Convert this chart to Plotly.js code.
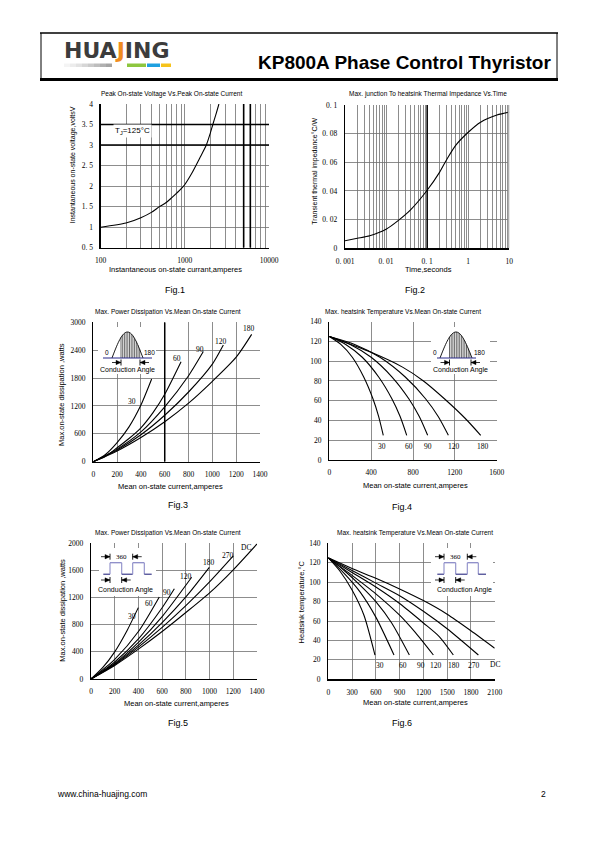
<!DOCTYPE html>
<html><head><meta charset="utf-8">
<script src="https://cdn.plot.ly/plotly-3.0.1.min.js"></script>
<style>html,body{margin:0;padding:0;background:#fff}#c{width:595px;height:842px}</style>
</head><body><div id="c"></div>
<script>
// ---------------- DATA ----------------
// Fig.1 Peak on-state voltage vs peak on-state current (Tj=125°C)
const fig1Current = [100,200,300,400,500,600,700,800,900,1000,1200,1500,1800,2000,2150,2350,2540];
const fig1Voltage = [1.0,1.1,1.23,1.36,1.5,1.6,1.72,1.83,1.93,2.04,2.3,2.68,3.0,3.28,3.5,3.76,4.0];
const fig1XTickVals = [100,200,300,400,500,600,700,800,900,1000,2000,3000,4000,5000,6000,7000,8000,9000,10000];
const fig1XTickText = ['100','','','','','','','','','1000','','','','','','','','','10000'];
const fig1YTickVals = [0.5,1,1.5,2,2.5,3,3.5,4];
const fig1YTickText = ['0. 5','1','1. 5','2','2. 5','3','3. 5','4'];
const fig1HeavyX = [5000,6000];
const fig1HeavyY = [3,3.5];
// Fig.2 Transient thermal impedance vs time
const fig2Time = [0.001,0.002,0.004,0.01,0.02,0.04,0.1,0.2,0.3,0.5,1,2,5,10];
const fig2Zth  = [0.0053,0.007,0.0088,0.0133,0.0195,0.027,0.0405,0.053,0.062,0.072,0.081,0.088,0.093,0.095];
const fig2XTickVals = [0.001,0.002,0.003,0.004,0.005,0.006,0.007,0.008,0.009,0.01,0.02,0.03,0.04,0.05,0.06,0.07,0.08,0.09,0.1,0.2,0.3,0.4,0.5,0.6,0.7,0.8,0.9,1,2,3,4,5,6,7,8,9,10];
const fig2XTickText = ['0. 001','','','','','','','','','0. 01','','','','','','','','','0. 1','','','','','','','','','1','','','','','','','','','10'];
const fig2YTickVals = [0,0.02,0.04,0.06,0.08,0.1];
const fig2YTickText = ['0','0. 02','0. 04','0. 06','0. 08','0. 1'];
const fig2HeavyX = [0.1];
// Fig.3 Power dissipation vs mean current (sine wave)
const fig3Labels = ['30','60','90','120','180'];
const fig3I30 = [0,100,200,300,400,490];            const fig3P30 = [0,150,410,750,1220,1780];
const fig3I60 = [0,100,200,300,400,500,600,737];    const fig3P60 = [0,110,300,500,730,1050,1450,2150];
const fig3I90 = [0,200,400,600,800,924];            const fig3P90 = [0,270,640,1180,1850,2370];
const fig3I120 = [0,200,400,600,800,1000,1092];     const fig3P120 = [0,250,580,1000,1500,2100,2510];
const fig3I180 = [0,200,400,600,800,1000,1200,1330];const fig3P180 = [0,230,520,860,1260,1730,2250,2740];
const fig3XTicks = [0,200,400,600,800,1000,1200,1400];
const fig3YTicks = [0,600,1200,1800,2400,3000];
const fig3HeavyX = [600];
// Fig.4 Heatsink temperature vs mean current (sine wave)
const fig4Labels = ['30','60','90','120','180'];
const fig4I30 = [0,110,220,329,417,472,516];       const fig4T30 = [125,117,104,84,62,44,25];
const fig4I60 = [0,157,315,472,598,677,740];       const fig4T60 = [125,117,104,84,62,44,25];
const fig4I90 = [0,200,400,600,760,860,940];       const fig4T90 = [125,117,104,84,62,44,25];
const fig4I120 = [0,242,484,726,920,1041,1138];    const fig4T120 = [125,117,104,84,62,44,25];
const fig4I180 = [0,400,700,900,1100,1300,1447];   const fig4T180 = [125,109,94,80,62,42,25];
const fig4XTicks = [0,400,800,1200,1600];
const fig4YTicks = [0,20,40,60,80,100,120,140];
// Fig.5 Power dissipation vs mean current (square wave)
const fig5Labels = ['30','60','90','120','180','270','DC'];
const fig5I30 = [0,100,200,300,399];                const fig5P30 = [0,170,400,700,1052];
const fig5I60 = [0,200,400,576];                    const fig5P60 = [0,290,700,1210];
const fig5I90 = [0,200,400,600,703];                const fig5P90 = [0,250,590,1050,1330];
const fig5I120 = [0,200,400,600,849];               const fig5P120 = [0,230,540,920,1500];
const fig5I180 = [0,200,400,600,800,998];           const fig5P180 = [0,220,500,830,1210,1646];
const fig5I270 = [0,200,400,600,800,1000,1200];     const fig5P270 = [0,210,470,760,1080,1430,1813];
const fig5IDC = [0,200,400,600,800,1000,1200,1400]; const fig5PDC = [0,200,440,700,980,1270,1610,1990];
const fig5XTicks = [0,200,400,600,800,1000,1200,1400];
const fig5YTicks = [0,400,800,1200,1600,2000];
// Fig.6 Heatsink temperature vs mean current (square wave)
const fig6Labels = ['30','60','90','120','180','270','DC'];
const fig6I30 = [0,150,300,450,589];                 const fig6T30 = [125,111,92,66,25];
const fig6I60 = [0,200,400,600,829];                 const fig6T60 = [125,109,90,64,25];
const fig6I90 = [0,200,400,600,800,1023];            const fig6T90 = [125,112,97,80,58,25];
const fig6I120 = [0,300,600,900,1100,1326];          const fig6T120 = [125,107,88,66,48,25];
const fig6I180 = [0,300,600,900,1200,1400,1578];     const fig6T180 = [125,110,95,78,58,44,25];
const fig6I270 = [0,300,600,900,1200,1500,1894];     const fig6T270 = [125,112,99,86,70,52,25];
const fig6IDC = [0,300,600,900,1200,1500,1800,2100]; const fig6TDC = [125,114,104,93,81,67,50,32];
const fig6XTicks = [0,300,600,900,1200,1500,1800,2100];
const fig6YTicks = [0,20,40,60,80,100,120,140];

// ---------------- DRAWING ----------------
const W=595,H=842;
const px=x=>x/W, py=y=>1-y/H;
const SANS='Liberation Sans, Arial, sans-serif';
const SERIF='Liberation Serif, Times New Roman, serif';
const GRID='#707070';
const TICKFONT={family:SERIF,size:7.5,color:'#000'};
const traces=[], shapes=[], ann=[];
const axName=(p,n)=>n===1?p:p+n;

function curve(x,y,n){traces.push({x:x,y:y,xaxis:axName('x',n),yaxis:axName('y',n),type:'scatter',mode:'lines',line:{color:'#000',width:1.1,shape:'spline',smoothing:0.7},hoverinfo:'skip'});}
function vHeavy(xs,yr,n,color,w){xs.forEach(v=>traces.push({x:[v,v],y:yr,xaxis:axName('x',n),yaxis:axName('y',n),type:'scatter',mode:'lines',line:{color:color,width:w},hoverinfo:'skip'}));}
function hHeavy(ys,xr,n,color,w){ys.forEach(v=>traces.push({x:xr,y:[v,v],xaxis:axName('x',n),yaxis:axName('y',n),type:'scatter',mode:'lines',line:{color:color,width:w},hoverinfo:'skip'}));}
function endLabel(xs,ys,text,n,dx,dy){ann.push({xref:axName('x',n),yref:axName('y',n),x:xs[xs.length-1],y:ys[ys.length-1],xshift:dx,yshift:dy,text:text,showarrow:false,font:{family:SERIF,size:7.5,color:'#000'}});}

function txt(x,y,text,size,o){ann.push(Object.assign({xref:'paper',yref:'paper',x:px(x),y:py(y),text:text,showarrow:false,font:{family:SANS,size:size,color:'#000'},xanchor:'center',yanchor:'middle'},o||{}));}
function P(x,y){return px(x).toFixed(5)+','+py(y).toFixed(5);}
function pth(pts,close){return 'M'+pts.map(p=>P(p[0],p[1])).join('L')+(close?'Z':'');}
function shp(o){shapes.push(Object.assign({xref:'paper',yref:'paper',layer:'above'},o));}
function ln(x0,y0,x1,y1,color,width){shp({type:'line',x0:px(x0),y0:py(y0),x1:px(x1),y1:py(y1),line:{color:color||'#000',width:width||1}});}
function box(x0,y0,x1,y1,fill){shp({type:'rect',x0:px(x0),y0:py(y0),x1:px(x1),y1:py(y1),fillcolor:fill,line:{width:0}});}
function arrowR(xb,y){ln(xb-9,y,xb,y,'#000',0.8);shp({type:'path',path:pth([[xb-5,y-2.2],[xb,y],[xb-5,y+2.2]],true),fillcolor:'#000',line:{color:'#000',width:0.4}});ln(xb,y-3,xb,y+3,'#000',0.9);}
function arrowL(xb,y){ln(xb,y,xb+9,y,'#000',0.8);shp({type:'path',path:pth([[xb+5,y-2.2],[xb,y],[xb+5,y+2.2]],true),fillcolor:'#000',line:{color:'#000',width:0.4}});ln(xb,y-3,xb,y+3,'#000',0.9);}

function sineInset(bx0,bx1,s0,s1,h0,h1,l0,l1,lblX0,lblX1){
  const by0=327,by1=374,base=358,peak=332;
  box(bx0,by0,bx1,by1,'#fff');
  const f=x=>base-(base-peak)*Math.sin(Math.PI*(x-s0)/(s1-s0));
  for(let x=h0;x<=h1+0.01;x+=1.7){ln(x,base,x,f(x),'#000',0.6);}
  const pts=[];for(let i=0;i<=40;i++){const x=s0+(s1-s0)*i/40;pts.push([x,f(x)]);}
  shp({type:'path',path:pth(pts,false),line:{color:'#000',width:0.9}});
  ln(l0,base,l1,base,'#2a2a8a',1.1);
  arrowR(h0,362.5); arrowL(h1,362.5);
  txt(lblX0,353,'0',6.5,{font:{family:SANS,size:6.5,color:'#000'}});
  txt(lblX1,353,'180',6.5,{font:{family:SANS,size:6.5,color:'#000'}});
  txt((bx0+bx1)/2,369.5,'Conduction Angle',7);
}
function squareInset(bx0,bx1,xs,textX){
  const by0=548,by1=596,base=574.2,high=562.7;
  box(bx0,by0,bx1,by1,'#fff');
  const [a,b,c,d,e,g]=xs;
  const dark='#2a2a80', light='#8c8cc8';
  ln(a,base,b,base,dark,1.1); ln(b,base,b,high,light,1.1); ln(b,high,c,high,light,1.3);
  ln(c,high,c,base,light,1.1); ln(c,base,d,base,dark,1.1); ln(d,base,d,high,light,1.1);
  ln(d,high,e,high,light,1.3); ln(e,high,e,base,light,1.1); ln(e,base,g,base,dark,1.1);
  arrowR(b,556.7); arrowL(d,556.7); txt((b+d)/2,556.7,'360',6.5,{font:{family:SERIF,size:7,color:'#000'}});
  arrowR(b,580); arrowL(c,580);
  txt(textX,590,'Conduction Angle',7);
}

// ---- Fig.1 ----
curve(fig1Current,fig1Voltage,1);
vHeavy(fig1HeavyX,[fig1YTickVals[0],fig1YTickVals[fig1YTickVals.length-1]],1,'#000',1.6);
hHeavy(fig1HeavyY,[fig1XTickVals[0],fig1XTickVals[fig1XTickVals.length-1]],1,'#000',1.4);
// ---- Fig.2 ----
curve(fig2Time,fig2Zth,2);
vHeavy(fig2HeavyX,[fig2YTickVals[0],fig2YTickVals[fig2YTickVals.length-1]],2,'#000',1.5);
vHeavy([fig2XTickVals[fig2XTickVals.length-1]],[fig2YTickVals[0],fig2YTickVals[fig2YTickVals.length-1]],2,'#b0b0b0',3);
// ---- Fig.3 ----
const f3=[[fig3I30,fig3P30],[fig3I60,fig3P60],[fig3I90,fig3P90],[fig3I120,fig3P120],[fig3I180,fig3P180]];
f3.forEach(s=>curve(s[0],s[1],3));
vHeavy(fig3HeavyX,[fig3YTicks[0],fig3YTicks[fig3YTicks.length-1]],3,'#000',1.5);
const f3shift=[[-20,-23],[-4,3],[-3,2],[-2,3.5],[-3,6]];
f3.forEach((s,i)=>endLabel(s[0],s[1],fig3Labels[i],3,f3shift[i][0],f3shift[i][1]));
// ---- Fig.4 ----
const f4=[[fig4I30,fig4T30],[fig4I60,fig4T60],[fig4I90,fig4T90],[fig4I120,fig4T120],[fig4I180,fig4T180]];
f4.forEach(s=>curve(s[0],s[1],4));
const f4shift=[[-1,-11],[2,-11],[0,-11],[6,-11],[2,-11]];
f4.forEach((s,i)=>endLabel(s[0],s[1],fig4Labels[i],4,f4shift[i][0],f4shift[i][1]));
// ---- Fig.5 ----
const f5=[[fig5I30,fig5P30],[fig5I60,fig5P60],[fig5I90,fig5P90],[fig5I120,fig5P120],[fig5I180,fig5P180],[fig5I270,fig5P270],[fig5IDC,fig5PDC]];
f5.forEach(s=>curve(s[0],s[1],5));
const f5shift=[[-6,-9],[-10,-7],[-7,-4],[-6,1],[0,5],[-5,0],[-11,-4]];
f5.forEach((s,i)=>endLabel(s[0],s[1],fig5Labels[i],5,f5shift[i][0],f5shift[i][1]));
// ---- Fig.6 ----
const f6=[[fig6I30,fig6T30],[fig6I60,fig6T60],[fig6I90,fig6T90],[fig6I120,fig6T120],[fig6I180,fig6T180],[fig6I270,fig6T270],[fig6IDC,fig6TDC]];
f6.forEach(s=>curve(s[0],s[1],6));
const f6shift=[[5,-10],[9,-10],[12,-10],[3,-10],[1,-10],[-4,-10],[0,-16.5]];
f6.forEach((s,i)=>endLabel(s[0],s[1],fig6Labels[i],6,f6shift[i][0],f6shift[i][1]));

// ---- axes ----
const base={showgrid:true,gridcolor:GRID,gridwidth:0.8,zeroline:false,showline:true,linecolor:'#000',linewidth:1.3,ticks:'',tickfont:TICKFONT,fixedrange:true,tickmode:'array'};
function xAx(x0,x1,n,o){return Object.assign({},base,{domain:[px(x0),px(x1)],anchor:axName('y',n),ticklabelstandoff:5},o);}
function yAx(y0,y1,n,o){return Object.assign({},base,{domain:[py(y1),py(y0)],anchor:axName('x',n),ticklabelstandoff:5},o);}
const lay={
  width:W,height:H,margin:{l:0,r:0,t:0,b:0},paper_bgcolor:'#fff',plot_bgcolor:'#fff',showlegend:false,
  xaxis:xAx(100.7,269,1,{type:'log',range:[2,4],tickvals:fig1XTickVals,ticktext:fig1XTickText}),
  yaxis:yAx(104,247.7,1,{range:[0.5,4],tickvals:fig1YTickVals,ticktext:fig1YTickText}),
  xaxis2:xAx(345,509.3,2,{type:'log',range:[-3,1],tickvals:fig2XTickVals,ticktext:fig2XTickText}),
  yaxis2:yAx(105,248.3,2,{range:[0,0.1],tickvals:fig2YTickVals,ticktext:fig2YTickText}),
  xaxis3:xAx(93.3,260,3,{range:[0,1400],tickvals:fig3XTicks,ticktext:fig3XTicks.map(String)}),
  yaxis3:yAx(322.3,461.7,3,{range:[0,3000],tickvals:fig3YTicks,ticktext:fig3YTicks.map(String)}),
  xaxis4:xAx(329.3,496.7,4,{range:[0,1600],tickvals:fig4XTicks,ticktext:fig4XTicks.map(String)}),
  yaxis4:yAx(321.7,460,4,{range:[0,140],tickvals:fig4YTicks,ticktext:fig4YTicks.map(String)}),
  xaxis5:xAx(91,257,5,{range:[0,1400],tickvals:fig5XTicks,ticktext:fig5XTicks.map(String)}),
  yaxis5:yAx(543.3,679,5,{range:[0,2000],tickvals:fig5YTicks,ticktext:fig5YTicks.map(String)}),
  xaxis6:xAx(328.3,494.7,6,{range:[0,2100],tickvals:fig6XTicks,ticktext:fig6XTicks.map(String)}),
  yaxis6:yAx(543.3,679.3,6,{range:[0,140],tickvals:fig6YTicks,ticktext:fig6YTicks.map(String)}),
  shapes:shapes,annotations:ann
};

// ---- insets ----
sineInset(98,156,112,143,121,140,103,152,106.7,149.5);
sineInset(431,490,440,472,449.5,471,437,476,435,479.5);
squareInset(99,156,[103.3,110,121.7,132.7,144.3,151.7],125);
squareInset(431,493,[437.3,444,455.7,467.3,478.3,486],464);

// ---- header ----
ln(40,33,558,33,'#000',1.4);
ln(41,33,41,80,'#000',1);
ln(557,33,557,80,'#000',1);
ln(40,79.5,558,79.5,'#000',3);
txt(62,51,"<b>HUA<span style='color:#f08c1e'>J</span>ING</b>",22,{xanchor:'left',font:{family:'DejaVu Sans, sans-serif',size:22,color:'#3c3c3c'}});
const grays=['#f4f4f4','#ececec','#e2e2e2','#d6d6d6','#cacaca','#bdbdbd','#b0b0b0','#a4a4a4'];
grays.forEach((c,i)=>box(64+i*6,63.5,64+(i+1)*6,67,c));
box(127,63.5,146,67,'#8dc63f');
box(147,63.5,160,67,'#1ea0e0');
box(161,63.5,171,67,'#f6c31b');
txt(256,62,'<b>KP800A Phase Control Thyristor</b>',19,{xanchor:'left'});

// ---- titles ----
txt(171.7,94.3,'Peak On-state Voltage Vs.Peak On-state Current',6.5);
txt(428.3,94.3,'Max. junction To heatsink Thermal Impedance Vs.Time',6.5);
txt(168.3,312.3,'Max. Power Dissipation Vs.Mean On-state Current',6.5);
txt(403.3,312.3,'Max. heatsink Temperature Vs.Mean On-state Current',6.5);
txt(168.3,533.3,'Max. Power Dissipation Vs.Mean On-state Current',6.5);
txt(415,533.3,'Max. heatsink Temperature Vs.Mean On-state Current',6.5);
// axis titles
txt(175,270,'Instantaneous on-state currant,amperes',7.5);
txt(73.3,165,'Instantaneous on-state voltage,voltsV',7,{textangle:-90});
txt(428.3,270,'Time,seconds',7.5);
txt(315,171.7,'Transient thermal impedance°C/W',7,{textangle:-90});
txt(170,486.7,'Mean on-state current,amperes',7.5);
txt(61,395,'Max.on-state dissipation ,watts',7.5,{textangle:-90});
txt(415,485,'Mean on-state current,amperes',7.5);
txt(176.7,703.3,'Mean on-state current,amperes',7.5);
txt(61.7,610,'Max.on-state dissipation ,watts',7.5,{textangle:-90});
txt(415,702.7,'Mean on-state current,amperes',7.5);
txt(301.7,601.7,'Heatsink temperature,°C',7.5,{textangle:-90});
// Tj annotation
txt(113,130.7,'T<sub>J</sub>=125°C',8,{xanchor:'left',bgcolor:'#fff'});
// captions
txt(175,290,'Fig.1',9); txt(415,290,'Fig.2',9);
txt(178,505,'Fig.3',9); txt(402,507,'Fig.4',9);
txt(178,723,'Fig.5',9); txt(402,723,'Fig.6',9);
// footer
txt(55,794,'www.china-huajing.com',8.5,{xanchor:'left'});
txt(543,794,'2',8.5);

Plotly.newPlot('c',traces,lay,{staticPlot:true,displayModeBar:false});
</script></body></html>
